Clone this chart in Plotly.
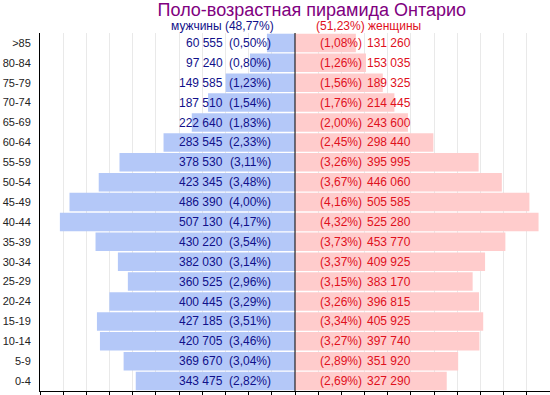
import plotly.graph_objects as go

ages = [">85", "80-84", "75-79", "70-74", "65-69", "60-64", "55-59", "50-54", "45-49",
        "40-44", "35-39", "30-34", "25-29", "20-24", "15-19", "10-14", "5-9", "0-4"]
male = [60555, 97240, 149585, 187510, 222640, 283545, 378530, 423345, 486390,
        507130, 430220, 382030, 360525, 400445, 427185, 420705, 369670, 343475]
male_pct = [0.50, 0.80, 1.23, 1.54, 1.83, 2.33, 3.11, 3.48, 4.00,
            4.17, 3.54, 3.14, 2.96, 3.29, 3.51, 3.46, 3.04, 2.82]
female = [131260, 153035, 189325, 214445, 243600, 298440, 395995, 446060, 505585,
          525280, 453770, 409925, 383170, 396815, 405925, 397740, 351920, 327290]
female_pct = [1.08, 1.26, 1.56, 1.76, 2.00, 2.45, 3.26, 3.67, 4.16,
              4.32, 3.73, 3.37, 3.15, 3.26, 3.34, 3.27, 2.89, 2.69]
title_text = "Поло-возрастная пирамида Онтарио"
male_label = "мужчины (48,77%)"
female_label = "(51,23%) женщины"

MALE_BAR = "#b4c8f8"
FEMALE_BAR = "#ffcccc"
MALE_TXT = "#10108a"
FEMALE_TXT = "#e0101c"
FONT = "Liberation Sans, Arial, sans-serif"


def fmt_num(v):
    return f"{v:,}".replace(",", " ")


def fmt_pct(p):
    return f"({p:.2f}%)".replace(".", ",")


fig = go.Figure()
fig.add_trace(go.Bar(y=ages, x=[-v for v in male], orientation="h",
                     marker=dict(color=MALE_BAR, line=dict(width=0)),
                     hoverinfo="skip", showlegend=False))
fig.add_trace(go.Bar(y=ages, x=female, orientation="h",
                     marker=dict(color=FEMALE_BAR, line=dict(width=0)),
                     hoverinfo="skip", showlegend=False))

ann = []
for a, m, mp, f, fp in zip(ages, male, male_pct, female, female_pct):
    ann.append(dict(x=-150000, y=a, xref="x", yref="y", text=fmt_num(m), xanchor="right",
                    showarrow=False, font=dict(color=MALE_TXT, size=12, family=FONT)))
    ann.append(dict(x=-48000, y=a, xref="x", yref="y", text=fmt_pct(mp), xanchor="right",
                    showarrow=False, font=dict(color=MALE_TXT, size=12, family=FONT)))
    ann.append(dict(x=49000, y=a, xref="x", yref="y", text=fmt_pct(fp), xanchor="left",
                    showarrow=False, font=dict(color=FEMALE_TXT, size=12, family=FONT)))
    ann.append(dict(x=150000, y=a, xref="x", yref="y", text=fmt_num(f), xanchor="left",
                    showarrow=False, font=dict(color=FEMALE_TXT, size=12, family=FONT)))

ann.append(dict(x=-42000, y=1.0196, xref="x", yref="paper", text=male_label, xanchor="right",
                yanchor="middle", showarrow=False, font=dict(color=MALE_TXT, size=12, family=FONT)))
ann.append(dict(x=42000, y=1.0196, xref="x", yref="paper", text=female_label, xanchor="left",
                yanchor="middle", showarrow=False, font=dict(color=FEMALE_TXT, size=12, family=FONT)))

fig.update_layout(
    width=550, height=395,
    margin=dict(l=40, r=0, t=33, b=4, autoexpand=False),
    paper_bgcolor="white", plot_bgcolor="white",
    barmode="overlay", bargap=0.07,
    title=dict(text=title_text, x=0.567, xref="container", xanchor="center",
               y=0.975, yref="container", yanchor="middle", automargin=False,
               font=dict(color="#800080", size=18, family=FONT)),
    annotations=ann,
    shapes=[dict(type="line", xref="x", yref="paper", x0=0, x1=0, y0=0, y1=1,
                 line=dict(color="black", width=1), layer="above")],
    xaxis=dict(range=[-550000, 550000], dtick=50000, tick0=0, showticklabels=False,
               ticks="outside", ticklen=4, tickcolor="black", showgrid=True,
               gridcolor="#e9e9e9", gridwidth=1, zeroline=False, automargin=False,
               showline=True, linecolor="black", linewidth=1, fixedrange=True),
    yaxis=dict(autorange="reversed", ticks="", showline=True, linecolor="black",
               linewidth=1, showgrid=False, ticklabelstandoff=6, automargin=False,
               tickfont=dict(size=11, color="#222222", family=FONT), fixedrange=True),
)

fig.write_html("out.html", config={"displayModeBar": False},
               post_script="document.body.style.margin='0';document.body.style.overflow='hidden';")
